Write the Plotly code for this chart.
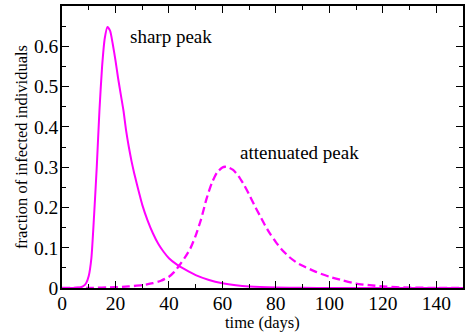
import plotly.graph_objects as go

# sharp peak (solid)
t_sharp = [0, 4, 6, 7, 8, 9, 10, 11, 12, 13, 14, 15, 16, 17, 18, 19, 20, 21, 22, 23, 24, 25, 26, 27, 28, 29, 30,
           32, 34, 36, 38, 40, 43, 46, 50, 55, 60, 65, 70, 80, 90, 100, 150]
v_sharp = [0, 0.0002, 0.001, 0.002, 0.005, 0.012, 0.03, 0.075, 0.18, 0.30, 0.44, 0.55, 0.62, 0.648, 0.638, 0.605,
           0.565, 0.52, 0.48, 0.44, 0.39, 0.35, 0.315, 0.285, 0.258, 0.232, 0.207,
           0.168, 0.136, 0.11, 0.09, 0.074, 0.058, 0.046, 0.032, 0.02, 0.012, 0.007, 0.004, 0.0015, 0.0005, 0.0002, 0]

# attenuated peak (dashed)
t_att = [0, 10, 20, 25, 30, 34, 37, 40, 42, 44, 46, 48, 50, 52, 54, 56, 58, 60, 61, 62, 64, 66, 68, 70, 72, 74,
         76, 78, 80, 82, 85, 88, 91, 95, 100, 105, 110, 115, 120, 125, 130, 140, 150]
v_att = [0, 0.0003, 0.002, 0.004, 0.007, 0.012, 0.018, 0.028, 0.04, 0.057, 0.076, 0.098, 0.13, 0.17, 0.22, 0.26,
         0.287, 0.299, 0.301, 0.30, 0.293, 0.278, 0.257, 0.232, 0.205, 0.18, 0.155, 0.133, 0.114, 0.097, 0.077,
         0.062, 0.052, 0.04, 0.028, 0.019, 0.011, 0.007, 0.004, 0.002, 0.001, 0.0003, 0]

x_ticks = [0, 20, 40, 60, 80, 100, 120, 140]
x_labels = ["0", "20", "40", "60", "80", "100", "120", "140"]
y_ticks = [0, 0.1, 0.2, 0.3, 0.4, 0.5, 0.6]
y_labels = ["0", "0.1", "0.2", "0.3", "0.4", "0.5", "0.6"]

FONT = "Liberation Serif, Tinos, Times New Roman, serif"
MAG = "#ff00ff"

fig = go.Figure()
fig.add_trace(go.Scatter(x=t_sharp, y=v_sharp, mode="lines",
                         line=dict(color=MAG, width=2, shape="spline", smoothing=0.6)))
fig.add_trace(go.Scatter(x=t_att, y=v_att, mode="lines",
                         line=dict(color=MAG, width=2.3, dash="8px,4px", shape="spline", smoothing=0.6)))

fig.add_annotation(x=40.8, y=0.624, text="sharp peak", showarrow=False,
                   font=dict(family=FONT, size=19, color="black"))
fig.add_annotation(x=88.8, y=0.336, text="attenuated peak", showarrow=False,
                   font=dict(family=FONT, size=19, color="black"))
fig.add_annotation(x=0.501, y=-0.121, xref="paper", yref="paper", text="time (days)", showarrow=False,
                   xanchor="center", yanchor="middle",
                   font=dict(family=FONT, size=16.5, color="black"))

axis_common = dict(showgrid=False, zeroline=False, showline=True, linecolor="black", linewidth=1.5,
                   mirror="allticks", ticks="inside", tickcolor="black", tickwidth=1,
                   tickfont=dict(family=FONT, size=19.5, color="black"))

fig.update_xaxes(range=[0, 150], tickvals=x_ticks, ticktext=x_labels, ticklen=7, ticklabelstandoff=-3,
                 minor=dict(dtick=10, tick0=0, ticks="inside", ticklen=4, tickcolor="black", tickwidth=1),
                 **axis_common)
fig.update_yaxes(range=[0, 0.7], tickvals=y_ticks, ticktext=y_labels, ticklen=7, ticklabelstandoff=-2,
                 minor=dict(dtick=0.05, tick0=0, ticks="inside", ticklen=4, tickcolor="black", tickwidth=1),
                 title=dict(text="fraction of infected individuals", font=dict(family=FONT, size=16.5, color="black"),
                            standoff=2),
                 **axis_common)

fig.update_layout(width=466, height=333, margin=dict(l=62, r=1, t=6, b=45),
                  font=dict(family=FONT, color="black"),
                  paper_bgcolor="white", plot_bgcolor="white", showlegend=False)

fig.write_html("out.html", config={"displayModeBar": False},
               post_script="document.body.style.margin='0';document.body.style.padding='0';")
